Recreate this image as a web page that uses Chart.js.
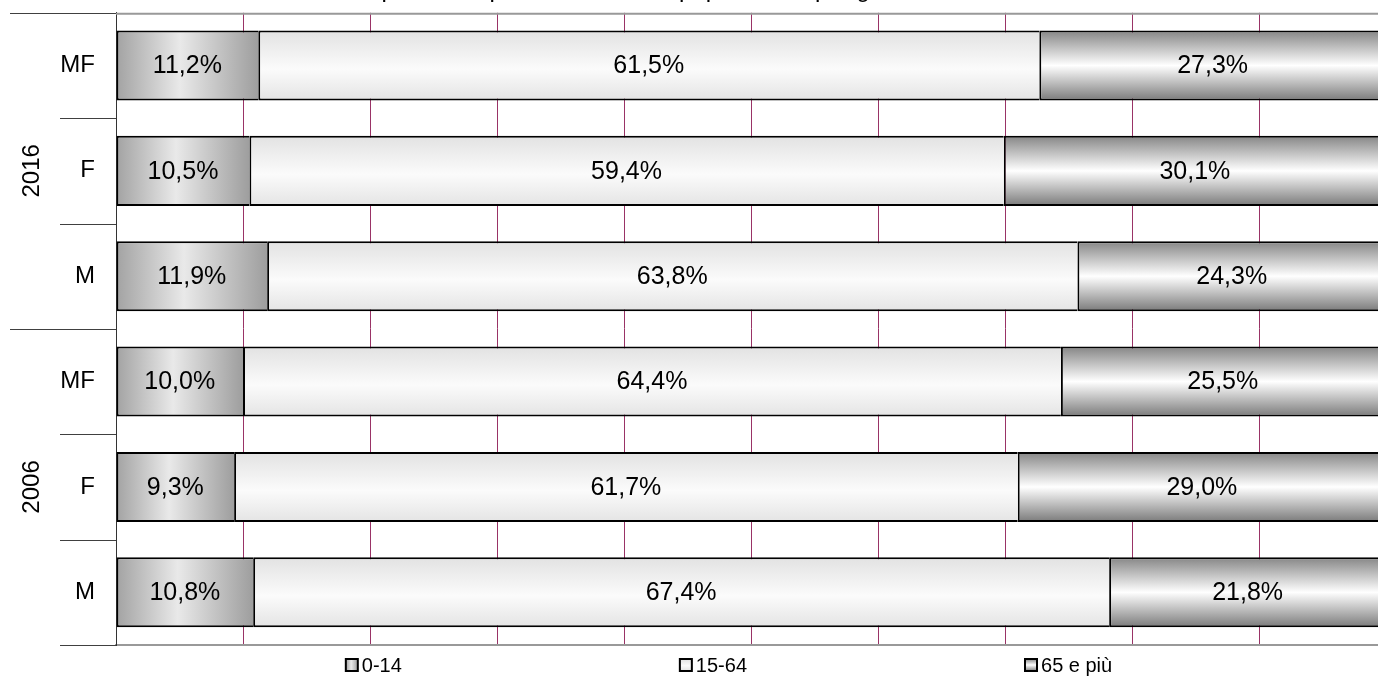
<!DOCTYPE html>
<html>
<head>
<meta charset="utf-8">
<script src="https://cdn.jsdelivr.net/npm/chart.js@4"></script>
<style>
  body { margin: 0; background: #fff; overflow: hidden; }
  #frame { position: relative; width: 1378px; height: 687px; overflow: hidden; }
  #wrap { position: absolute; left: 0; top: -24px; width: 1400px; height: 711px; }
</style>
</head>
<body>
<div id="frame"><div id="wrap"><canvas id="myChart"></canvas></div></div>
<script>
// Chart data
const chartTitle = "Composizione percentuale della popolazione per grandi classi di età";
const sexLabels = ["MF", "F", "M", "MF", "F", "M"];
const yearGroups = ["2016", "2006"];
const seriesNames = ["0-14", "15-64", "65 e più"];
const young = [11.2, 10.5, 11.9, 10.0, 9.3, 10.8];
const adult = [61.5, 59.4, 63.8, 64.4, 61.7, 67.4];
const old = [27.3, 30.1, 24.3, 25.5, 29.0, 21.8];

const barPct = 0.665;
const groupSize = 3;

Chart.defaults.font.family = "'Liberation Sans', Arial, sans-serif";
Chart.defaults.color = "#000";

// gradient fills, worked out from the scales of each bar
function fillFor(kind) {
  return function (context) {
    const chart = context.chart;
    if (!chart.chartArea || context.type !== "data") return "#cccccc";
    const xs = chart.scales.x, ys = chart.scales.y;
    const i = context.dataIndex;
    const c = chart.ctx;
    let g;
    if (kind === 0) {
      const x0 = xs.getPixelForValue(0);
      const x1 = xs.getPixelForValue(young[i]);
      g = c.createLinearGradient(x0, 0, x1, 0);
      g.addColorStop(0, "#a2a2a2");
      g.addColorStop(0.45, "#e9e9e9");
      g.addColorStop(1, "#9e9e9e");
    } else {
      const yc = ys.getPixelForValue(i);
      const half = Math.abs(ys.getPixelForValue(1) - ys.getPixelForValue(0)) * barPct / 2;
      g = c.createLinearGradient(0, yc - half, 0, yc + half);
      if (kind === 1) {
        g.addColorStop(0, "#e2e2e2");
        g.addColorStop(0.55, "#fbfbfb");
        g.addColorStop(1, "#e4e4e4");
      } else {
        g.addColorStop(0, "#858585");
        g.addColorStop(0.5, "#ffffff");
        g.addColorStop(1, "#7a7a7a");
      }
    }
    return g;
  };
}

function legendFill(ctx, kind, x, y, s) {
  let g;
  if (kind === 0) {
    g = ctx.createLinearGradient(x, 0, x + s, 0);
    g.addColorStop(0, "#a2a2a2"); g.addColorStop(0.45, "#e9e9e9"); g.addColorStop(1, "#9e9e9e");
  } else if (kind === 1) {
    g = ctx.createLinearGradient(0, y, 0, y + s);
    g.addColorStop(0, "#e2e2e2"); g.addColorStop(0.55, "#fbfbfb"); g.addColorStop(1, "#e4e4e4");
  } else {
    g = ctx.createLinearGradient(0, y, 0, y + s);
    g.addColorStop(0, "#858585"); g.addColorStop(0.5, "#ffffff"); g.addColorStop(1, "#7a7a7a");
  }
  return g;
}

const fmt = v => v.toFixed(1).replace(".", ",") + "%";

// value labels in the middle of each segment
const barLabels = {
  id: "barLabels",
  afterDatasetsDraw(chart) {
    const ctx = chart.ctx;
    ctx.save();
    ctx.font = "25px 'Liberation Sans', Arial, sans-serif";
    ctx.fillStyle = "#000";
    ctx.textAlign = "center";
    ctx.textBaseline = "middle";
    chart.data.datasets.forEach((ds, d) => {
      chart.getDatasetMeta(d).data.forEach((el, i) => {
        ctx.fillText(fmt(ds.data[i]), (el.x + el.base) / 2, el.y + 1);
      });
    });
    ctx.restore();
  }
};

// year groups on the left, separator lines, top border, legend
const frameBits = {
  id: "frameBits",
  afterDraw(chart) {
    const { ctx, chartArea, scales: { y } } = chart;
    ctx.save();
    // top border
    ctx.strokeStyle = "#999";
    ctx.lineWidth = 2;
    ctx.beginPath();
    ctx.moveTo(chartArea.left, chartArea.top + 1);
    ctx.lineTo(chartArea.right, chartArea.top + 1);
    ctx.stroke();

    // row separators
    ctx.strokeStyle = "#404040";
    ctx.lineWidth = 1;
    for (let k = 0; k <= sexLabels.length; k++) {
      const yy = Math.round(y.getPixelForValue(k - 0.5)) + 0.5;
      const isGroup = k % groupSize === 0 && k < sexLabels.length;
      ctx.beginPath();
      ctx.moveTo(isGroup ? 10 : 60, yy);
      ctx.lineTo(chartArea.left, yy);
      ctx.stroke();
    }

    // year labels
    ctx.font = "24px 'Liberation Sans', Arial, sans-serif";
    ctx.fillStyle = "#000";
    ctx.textAlign = "center";
    ctx.textBaseline = "middle";
    yearGroups.forEach((yr, g) => {
      const yc = (y.getPixelForValue(g * groupSize) + y.getPixelForValue(g * groupSize + groupSize - 1)) / 2;
      ctx.save();
      ctx.translate(32, yc);
      ctx.rotate(-Math.PI / 2);
      ctx.fillText(yr, 0, 0);
      ctx.restore();
    });

    // legend
    ctx.font = "20px 'Liberation Sans', Arial, sans-serif";
    ctx.textAlign = "left";
    const box = 12, gap = 4, spacing = 278;
    const widths = seriesNames.map(n => box + gap + ctx.measureText(n).width);
    const total = widths.reduce((a, b) => a + b, 0) + spacing * (seriesNames.length - 1);
    let lx = (chartArea.left + chartArea.right) / 2 - total / 2 - 22;
    const ly = chartArea.bottom + 20;
    seriesNames.forEach((n, k) => {
      ctx.fillStyle = legendFill(ctx, k, lx, ly - box / 2, box);
      ctx.fillRect(lx, ly - box / 2, box, box);
      ctx.strokeStyle = "#000";
      ctx.lineWidth = 2;
      ctx.strokeRect(lx, ly - box / 2, box, box);
      ctx.fillStyle = "#000";
      ctx.fillText(n, lx + box + gap, ly + 1);
      lx += widths[k] + spacing;
    });
    ctx.restore();
  }
};

const seriesData = [young, adult, old];

new Chart("myChart", {
  type: "bar",
  data: {
    labels: sexLabels,
    datasets: seriesData.map((vals, k) => ({
      label: seriesNames[k],
      data: vals,
      backgroundColor: fillFor(k),
      borderColor: "#000",
      borderWidth: { top: 2, bottom: 2, left: 2, right: k === seriesData.length - 1 ? 2 : 0 },
      borderSkipped: false,
      categoryPercentage: 1,
      barPercentage: barPct
    }))
  },
  options: {
    indexAxis: "y",
    responsive: true,
    maintainAspectRatio: false,
    animation: false,
    layout: { padding: { top: 0, right: 14, bottom: 42, left: 0 } },
    plugins: {
      legend: { display: false },
      tooltip: { enabled: false },
      title: {
        display: true,
        text: chartTitle,
        color: "#000",
        font: { size: 24, weight: "normal" },
        padding: { top: 0, bottom: 8 }
      }
    },
    scales: {
      x: {
        stacked: true,
        min: 0,
        max: 100,
        ticks: { display: false, stepSize: 10 },
        grid: { color: "#993366", lineWidth: 1, drawTicks: false },
        border: { color: "#999", width: 2 },
        afterFit: s => { s.height = 0; }
      },
      y: {
        stacked: true,
        grid: { display: false, drawTicks: false },
        border: { color: "#333", width: 1 },
        ticks: { font: { size: 24 }, color: "#000", padding: 21 },
        afterFit: s => { s.width = 116; }
      }
    }
  },
  plugins: [barLabels, frameBits]
});
</script>
</body>
</html>
